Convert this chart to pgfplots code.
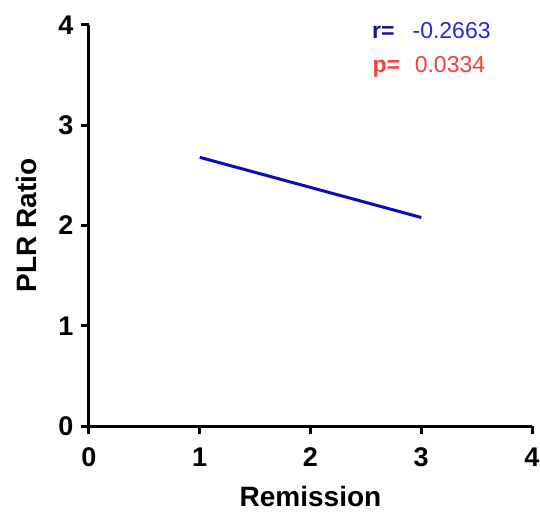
\documentclass[border=0pt]{standalone}
\usepackage{pgfplots}
\pgfplotsset{compat=1.18}
\usepackage{fontspec}
\setmainfont{Liberation Sans}
\definecolor{fitblue}{RGB}{10,10,190}
\definecolor{rdark}{RGB}{20,20,150}
\definecolor{rval}{RGB}{40,40,210}
\definecolor{pred}{RGB}{250,60,60}

\begin{document}
\begin{tikzpicture}
\begin{axis}[
	name=ax,
	scale only axis,
	width=443bp,
	height=401bp,
	xmin=0, xmax=4,
	ymin=0, ymax=4,
	xtick={0,1,2,3,4},
	ytick={0,1,2,3,4},
	axis lines=left,
	axis line style={-, line width=3bp},
	tick align=outside,
	major tick length=8bp,
	tick style={line width=3bp, black},
	/pgf/number format/assume math mode=true,
	ticklabel style={font=\fontsize{27bp}{30bp}\selectfont\bfseries},
	xticklabel style={yshift=-10bp},
	yticklabel style={xshift=-4bp},
	every axis x label/.style={at={([yshift=-80bp]axis description cs:0.5,0)}, anchor=base, font=\fontsize{28bp}{30bp}\selectfont\bfseries},
	every axis y label/.style={at={([xshift=-52bp]axis description cs:0,0.5)}, rotate=90, anchor=base, font=\fontsize{28bp}{30bp}\selectfont\bfseries},
	xlabel={Remission},
	ylabel={PLR Ratio},
	clip=false]

	% linear fit
	\addplot[color=fitblue, line width=3bp] coordinates {
		(1,2.68)
		(3,2.08)};

	\node[anchor=base west, inner sep=0pt, font=\fontsize{23bp}{25bp}\selectfont\bfseries, text=rdark] at (axis cs:2.555,3.87) {r=};
	\node[anchor=base west, inner sep=0pt, font=\fontsize{23bp}{25bp}\selectfont, text=rval] at (axis cs:2.92,3.87) {-0.2663};
	\node[anchor=base west, inner sep=0pt, font=\fontsize{23bp}{25bp}\selectfont\bfseries, text=pred] at (axis cs:2.56,3.53) {p=};
	\node[anchor=base west, inner sep=0pt, font=\fontsize{23bp}{25bp}\selectfont, text=pred] at (axis cs:2.94,3.53) {0.0334};
\end{axis}
\pgfresetboundingbox
\path[use as bounding box] ([shift={(-89bp,-88bp)}]ax.south west) rectangle ([shift={(8bp,25bp)}]ax.north east);
\end{tikzpicture}
\end{document}
